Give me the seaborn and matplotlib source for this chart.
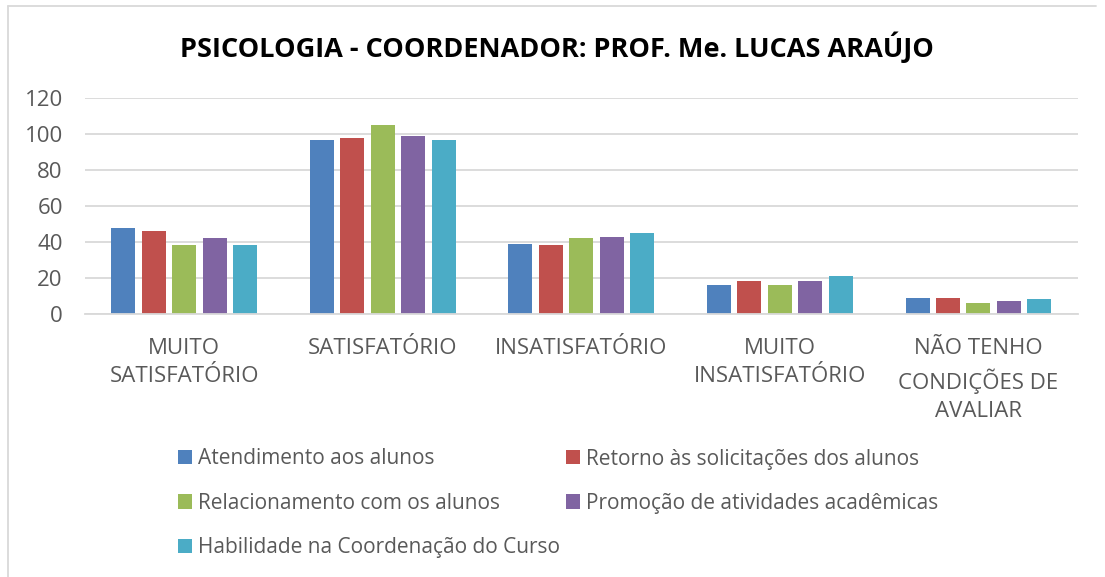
import matplotlib
matplotlib.use("Agg")
import matplotlib.pyplot as plt
import seaborn as sns
import pandas as pd
from matplotlib.patches import Patch
from matplotlib.lines import Line2D

categories = ["MUITO\nSATISFATÓRIO", "SATISFATÓRIO", "INSATISFATÓRIO",
              "MUITO\nINSATISFATÓRIO", "NÃO TENHO\nCONDIÇÕES DE\nAVALIAR"]
series = ["Atendimento aos alunos", "Retorno às solicitações dos alunos",
          "Relacionamento com os alunos", "Promoção de atividades acadêmicas",
          "Habilidade na Coordenação do Curso"]
atendimento = [48, 97, 39, 16, 9]
retorno = [46, 98, 38, 18, 9]
relacionamento = [38, 105, 42, 16, 6]
promocao = [42, 99, 43, 18, 7]
habilidade = [38, 97, 45, 21, 8]
colors = ["#4F81BD", "#C0504D", "#9BBB59", "#8064A2", "#4BACC6"]
yticks = [0, 20, 40, 60, 80, 100, 120]
title = "PSICOLOGIA - COORDENADOR: PROF. Me. LUCAS ARAÚJO"

values = [atendimento, retorno, relacionamento, promocao, habilidade]
rows = []
for s, vals in zip(series, values):
    for c, v in zip(categories, vals):
        rows.append({"cat": c, "serie": s, "val": v})
df = pd.DataFrame(rows)

sns.set_theme(style="white")
plt.rcParams["font.family"] = ["Open Sans", "DejaVu Sans"]

W, H = 1105, 577
fig = plt.figure(figsize=(W / 100, H / 100), dpi=100)
fig.patch.set_facecolor("white")

ax_l, ax_r, ax_b, ax_t = 85, 1077.6, 313.7, 98.3
ax = fig.add_axes([ax_l / W, 1 - ax_b / H, (ax_r - ax_l) / W, (ax_b - ax_t) / H])

sns.barplot(data=df, x="cat", y="val", hue="serie", hue_order=series,
            order=categories, palette=colors, saturation=1, width=0.766,
            ax=ax, legend=False, errorbar=None)

# narrow each bar a bit to leave the small gaps seen in the reference
bw = 24 / 198.5
for p in ax.patches:
    cx = p.get_x() + p.get_width() / 2
    p.set_width(bw)
    p.set_x(cx - bw / 2)
    p.set_edgecolor("none")

ax.set_xlim(-0.5, len(categories) - 0.5)
ax.set_ylim(0, 120)
ax.set_yticks(yticks)
ax.set_yticklabels([str(t) for t in yticks])
ax.grid(axis="y", color="#D9D9D9", linewidth=1.3)
ax.set_axisbelow(True)
for s in ["top", "right", "left"]:
    ax.spines[s].set_visible(False)
ax.spines["bottom"].set_color("#D9D9D9")
ax.spines["bottom"].set_linewidth(1.3)
ax.set_xlabel("")
ax.set_ylabel("")
ax.tick_params(axis="y", length=0, pad=16, labelsize=16, labelcolor="#595959")
ax.tick_params(axis="x", length=0, pad=17.5, labelsize=16, labelcolor="#595959")
for lab in ax.get_xticklabels():
    lab.set_linespacing(1.45)
    lab.set_ha("center")

fig.text(557 / W, 1 - 47 / H, title, ha="center", va="center",
         fontsize=19.5, fontweight="bold", color="black")

# legend, laid out in two columns row-wise as in the reference
handles = [Patch(facecolor=c, edgecolor="none") for c in colors]
common = dict(frameon=False, fontsize=15, labelcolor="#595959",
              handlelength=0.68, handleheight=0.68, handletextpad=0.3,
              labelspacing=1.12, borderpad=0, borderaxespad=0, loc="upper left")
fig.legend([handles[0], handles[2], handles[4]], [series[0], series[2], series[4]],
           bbox_to_anchor=(178 / W, 1 - 448.5 / H), **common)
fig.legend([handles[1], handles[3]], [series[1], series[3]],
           bbox_to_anchor=(566 / W, 1 - 448.5 / H), **common)

# chart frame (left and top edges visible)
fig.add_artist(Line2D([8 / W, 8 / W], [0, 1 - 6 / H], transform=fig.transFigure,
                      color="#D9D9D9", linewidth=1.3))
fig.add_artist(Line2D([8 / W, 1096 / W], [1 - 6 / H, 1 - 6 / H], transform=fig.transFigure,
                      color="#D9D9D9", linewidth=1.3))

fig.savefig("out.png", dpi=100, facecolor="white")
